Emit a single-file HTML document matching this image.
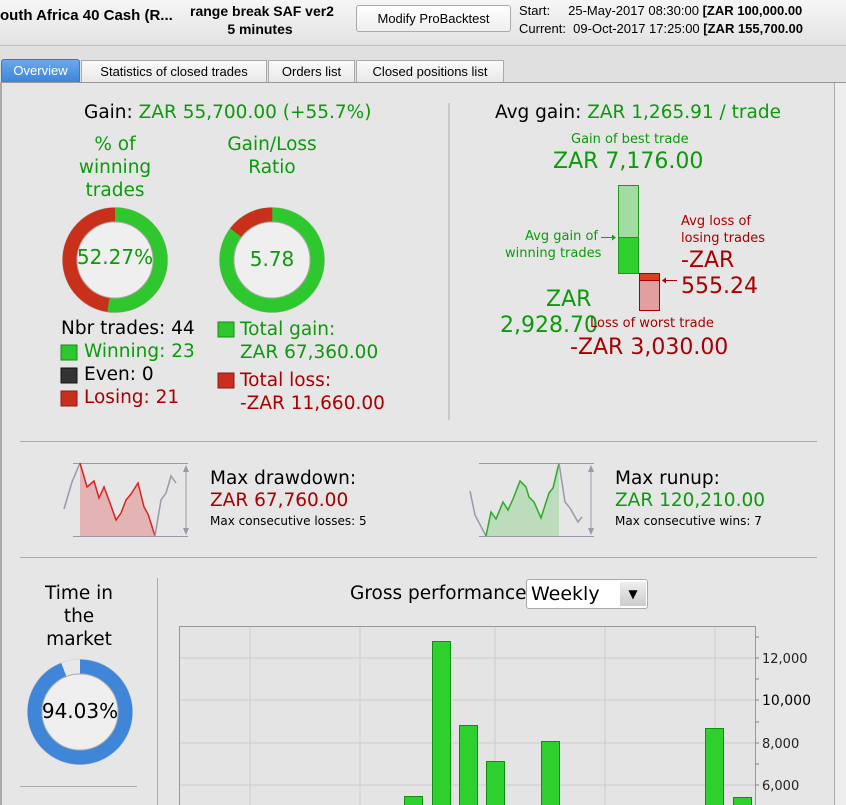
<!DOCTYPE html>
<html><head><meta charset="utf-8"><style>
*{margin:0;padding:0;box-sizing:border-box}
body{width:846px;height:805px;overflow:hidden;background:#e6e6e6;font-family:"DejaVu Sans","Liberation Sans",sans-serif;position:relative}
.a{position:absolute;white-space:nowrap}
.g{color:#0c9a0c}.r{color:#a80000}.k{color:#000}
.c{text-align:center}
.L{font-size:18.5px}
</style></head><body>
<div class="a" style="left:0;top:0;width:846px;height:46px;background:linear-gradient(#f6f6f6,#e2e2e2);border-bottom:1px solid #bbb"></div>
<div class="a" style="left:0;top:7px;font:bold 15px 'Liberation Sans',sans-serif">outh Africa 40 Cash (R...</div>
<div class="a c" style="left:190px;top:2px;width:140px;font:bold 14px/18px 'Liberation Sans',sans-serif">range break SAF ver2<br>5 minutes</div>
<div class="a c" style="left:356px;top:5px;width:155px;height:27px;border:1px solid #aaa;border-radius:3px;background:linear-gradient(#fff,#eee);font:13px/25px 'Liberation Sans',sans-serif">Modify ProBacktest</div>
<div class="a" style="left:519px;top:2px;font:13px/18px 'Liberation Sans',sans-serif">Start:&nbsp;&nbsp;&nbsp;&nbsp;&nbsp;25-May-2017 08:30:00 <b>[ZAR 100,000.00</b><br>Current:&nbsp; 09-Oct-2017 17:25:00 <b>[ZAR 155,700.00</b></div>
<div class="a" style="left:0;top:47px;width:846px;height:35px;background:#e0e0e0"></div>
<div class="a" style="left:1px;top:59px;width:79px;height:24px;background:linear-gradient(#6aa8ec,#3d86d8);border:1px solid #3a78c0;color:#fff;font:13px/22px 'Liberation Sans',sans-serif;text-align:center;border-radius:3px 3px 0 0">Overview</div>
<div class="a" style="left:81px;top:60px;width:186px;height:23px;background:linear-gradient(#fafafa,#e8e8e8);border:1px solid #aaa;font:13px/21px 'Liberation Sans',sans-serif;text-align:center">Statistics of closed trades</div>
<div class="a" style="left:268px;top:60px;width:87px;height:23px;background:linear-gradient(#fafafa,#e8e8e8);border:1px solid #aaa;font:13px/21px 'Liberation Sans',sans-serif;text-align:center">Orders list</div>
<div class="a" style="left:356px;top:60px;width:148px;height:23px;background:linear-gradient(#fafafa,#e8e8e8);border:1px solid #aaa;font:13px/21px 'Liberation Sans',sans-serif;text-align:center">Closed positions list</div>
<div class="a" style="left:0;top:82px;width:846px;height:1px;background:#999"></div>
<div class="a" style="left:0;top:82px;width:2px;height:723px;background:#aaa"></div>
<div class="a" style="left:834px;top:83px;width:12px;height:722px;background:#eee;border-left:1px solid #aaa"></div>

<div class="a L" style="left:84px;top:102px"><span class="k">Gain: </span><span class="g">ZAR 55,700.00 (+55.7%)</span></div>
<div class="a c g L" style="left:55px;top:133px;width:120px;line-height:23px">% of<br>winning<br>trades</div>
<div class="a c g L" style="left:210px;top:133px;width:124px;line-height:23px">Gain/Loss<br>Ratio</div>

<svg class="a" style="left:0;top:0" width="846" height="805">
<g transform="translate(115,260) rotate(-90)">
<circle r="53" fill="#ccc"/><circle r="45.5" fill="none" stroke="#c8301c" stroke-width="14"/>
<circle r="45.5" fill="none" stroke="#2ec82e" stroke-width="14" stroke-dasharray="149.4 300"/>
<circle r="38" fill="#efefef" stroke="#aaa"/></g>
<g transform="translate(272,260) rotate(-90)">
<circle r="53" fill="#ccc"/><circle r="45.5" fill="none" stroke="#2ec82e" stroke-width="14"/>
<circle r="45.5" fill="none" stroke="#c8301c" stroke-width="14" stroke-dasharray="42.3 300" transform="rotate(-53)"/>
<circle r="38" fill="#efefef" stroke="#aaa"/></g>
<g transform="translate(80,712) rotate(-90)">
<circle r="53" fill="#ccc"/><circle r="45.5" fill="none" stroke="#e8e8e8" stroke-width="14"/>
<circle r="45.5" fill="none" stroke="#3f86d8" stroke-width="14" stroke-dasharray="268.8 300"/>
<circle r="38" fill="#efefef" stroke="#aaa"/></g>
<line x1="449" y1="103" x2="449" y2="420" stroke="#aaa"/>
<line x1="20" y1="441.5" x2="817" y2="441.5" stroke="#aaa"/>
<line x1="20" y1="557.5" x2="817" y2="557.5" stroke="#aaa"/>
<line x1="157.5" y1="578" x2="157.5" y2="805" stroke="#aaa"/>
<line x1="20" y1="786.5" x2="137" y2="786.5" stroke="#aaa"/>
<rect x="61" y="345" width="16" height="15" fill="#2ec82e" stroke="#1a8a1a"/>
<rect x="61" y="368" width="16" height="15" fill="#333" stroke="#111"/>
<rect x="61" y="391" width="16" height="15" fill="#c8301c" stroke="#8a1a1a"/>
<rect x="218" y="322" width="16" height="15" fill="#2ec82e" stroke="#1a8a1a"/>
<rect x="218" y="373" width="16" height="15" fill="#c8301c" stroke="#8a1a1a"/>
<rect x="618.5" y="185.5" width="20" height="52" fill="#a2dca2" stroke="#1a9a1a"/>
<rect x="618.5" y="237.5" width="20" height="36" fill="#2ed02e" stroke="#1a9a1a"/>
<rect x="639.5" y="273.5" width="20" height="37" fill="#e0a0a0" stroke="#a80000"/>
<rect x="639.5" y="273.5" width="20" height="7" fill="#d84020" stroke="#a80000"/>
<line x1="601" y1="237.5" x2="615" y2="237.5" stroke="#1a9a1a"/><path d="M616 237.5l-4-3v6z" fill="#1a9a1a"/>
<line x1="663" y1="280.5" x2="677" y2="280.5" stroke="#a80000"/><path d="M662 280.5l4-3v6z" fill="#a80000"/>
<line x1="73" y1="463.5" x2="188" y2="463.5" stroke="#99a"/><line x1="73" y1="536.5" x2="188" y2="536.5" stroke="#99a"/>
<line x1="186" y1="466" x2="186" y2="534" stroke="#99a"/><path d="M186 465l-3 7h6zM186 535l-3-7h6z" fill="#99a"/>
<path d="M80 463L87 487L94 481L99 498L104 487L110 503L116 520L121 513L126 500L131 494L138 483L144 507L148 514L155 536L80 536Z" fill="#e4b4b4"/>
<polyline points="64,509 72,482 80,463" fill="none" stroke="#99a" stroke-width="1.5"/>
<polyline points="80,463 87,487 94,481 99,498 104,487 110,503 116,520 121,513 126,500 131,494 138,483 144,507 148,514 155,536" fill="none" stroke="#e02020" stroke-width="1.5"/>
<polyline points="155,536 161,500 166,493 171,476 176,483" fill="none" stroke="#99a" stroke-width="1.5"/>
<line x1="479" y1="463.5" x2="594" y2="463.5" stroke="#99a"/><line x1="479" y1="536.5" x2="594" y2="536.5" stroke="#99a"/>
<line x1="591" y1="466" x2="591" y2="534" stroke="#99a"/><path d="M591 465l-3 7h6zM591 535l-3-7h6z" fill="#99a"/>
<path d="M486 536L491 512L496 519L503 502L508 510L513 499L520 481L526 487L529 497L534 502L541 518L549 493L553 488L559 463L559 536Z" fill="#bcdcbc"/>
<polyline points="470,491 475,515 486,536" fill="none" stroke="#99a" stroke-width="1.5"/>
<polyline points="486,536 491,512 496,519 503,502 508,510 513,499 520,481 526,487 529,497 534,502 541,518 549,493 553,488 559,463" fill="none" stroke="#2aaa2a" stroke-width="1.5"/>
<polyline points="559,463 565,502 570,508 578,522 582,517" fill="none" stroke="#99a" stroke-width="1.5"/>
<rect x="179.5" y="626.5" width="576" height="190" fill="#e4e4e4" stroke="#999"/>
<g stroke="#ccc"><line x1="250" y1="627" x2="250" y2="805"/><line x1="360" y1="627" x2="360" y2="805"/><line x1="495" y1="627" x2="495" y2="805"/><line x1="605" y1="627" x2="605" y2="805"/><line x1="715" y1="627" x2="715" y2="805"/>
<line x1="180" y1="658" x2="755" y2="658"/><line x1="180" y1="700" x2="755" y2="700"/><line x1="180" y1="743" x2="755" y2="743"/><line x1="180" y1="785" x2="755" y2="785"/></g>
<g stroke="#888"><line x1="755" y1="637" x2="759" y2="637"/><line x1="755" y1="658" x2="759" y2="658"/><line x1="755" y1="679" x2="759" y2="679"/><line x1="755" y1="700" x2="759" y2="700"/><line x1="755" y1="722" x2="759" y2="722"/><line x1="755" y1="743" x2="759" y2="743"/><line x1="755" y1="764" x2="759" y2="764"/><line x1="755" y1="785" x2="759" y2="785"/></g>
<g fill="#2ed02e" stroke="#109010">
<rect x="404.5" y="796.5" width="18" height="20"/><rect x="432.5" y="641.5" width="18" height="175"/><rect x="459.5" y="725.5" width="18" height="91"/><rect x="486.5" y="761.5" width="18" height="55"/><rect x="541.5" y="741.5" width="18" height="75"/><rect x="705.5" y="728.5" width="18" height="88"/><rect x="733.5" y="797.5" width="18" height="19"/></g>
<g font-family="DejaVu Sans" font-size="13" fill="#222"><text x="762" y="663">12,000</text><text x="762" y="705" font-size="14" fill="#000">10,000</text><text x="762" y="748">8,000</text><text x="762" y="790">6,000</text></g>
</svg>

<div class="a c g" style="left:35px;top:245px;width:160px;font-size:20px">52.27%</div>
<div class="a c g" style="left:222px;top:247px;width:100px;font-size:20px">5.78</div>
<div class="a k L" style="left:61px;top:318px">Nbr trades: 44</div>
<div class="a g L" style="left:84px;top:341px">Winning: 23</div>
<div class="a k L" style="left:84px;top:364px">Even: 0</div>
<div class="a r L" style="left:84px;top:387px">Losing: 21</div>
<div class="a g L" style="left:240px;top:318px;line-height:23px">Total gain:<br>ZAR 67,360.00</div>
<div class="a r L" style="left:240px;top:369px;line-height:23px">Total loss:<br>-ZAR 11,660.00</div>

<div class="a L" style="left:495px;top:102px"><span class="k">Avg gain: </span><span class="g">ZAR 1,265.91 / trade</span></div>
<div class="a g" style="left:571px;top:132px;font-size:13px">Gain of best trade</div>
<div class="a g" style="left:553px;top:149px;font-size:22px">ZAR 7,176.00</div>
<div class="a g" style="left:505px;top:228px;font-size:13px;line-height:17px;text-align:right;width:93px">Avg gain of<br>winning trades</div>
<div class="a r" style="left:681px;top:213px;font-size:13px;line-height:17px">Avg loss of<br>losing trades</div>
<div class="a r" style="left:681px;top:248px;font-size:22px;line-height:26px">-ZAR<br>555.24</div>
<div class="a g" style="left:546px;top:287px;font-size:22px;line-height:26px">ZAR</div>
<div class="a g" style="left:500px;top:313px;font-size:22px;line-height:26px">2,928.70</div>
<div class="a r" style="left:590px;top:316px;font-size:13px">Loss of worst trade</div>
<div class="a r" style="left:570px;top:335px;font-size:22px">-ZAR 3,030.00</div>

<div class="a k L" style="left:210px;top:468px">Max drawdown:</div>
<div class="a r L" style="left:210px;top:490px">ZAR 67,760.00</div>
<div class="a k" style="left:210px;top:514px;font-size:12px">Max consecutive losses: 5</div>
<div class="a k L" style="left:615px;top:468px">Max runup:</div>
<div class="a g L" style="left:615px;top:490px">ZAR 120,210.00</div>
<div class="a k" style="left:615px;top:514px;font-size:12px">Max consecutive wins: 7</div>

<div class="a c k L" style="left:17px;top:582px;width:124px;line-height:23px">Time in<br>the<br>market</div>
<div class="a c k" style="left:20px;top:699px;width:120px;font-size:20px">94.03%</div>
<div class="a k L" style="left:350px;top:583px">Gross performance</div>
<div class="a" style="left:526px;top:579px;width:122px;height:30px;background:#fff;border:1px solid #aaa;border-radius:3px;font-size:19px;line-height:28px;padding-left:4px">Weekly</div>
<div class="a" style="left:620px;top:582px;width:26px;height:24px;background:linear-gradient(#eee,#ccc);font-size:12px;text-align:center;line-height:24px">▼</div>
</body></html>
